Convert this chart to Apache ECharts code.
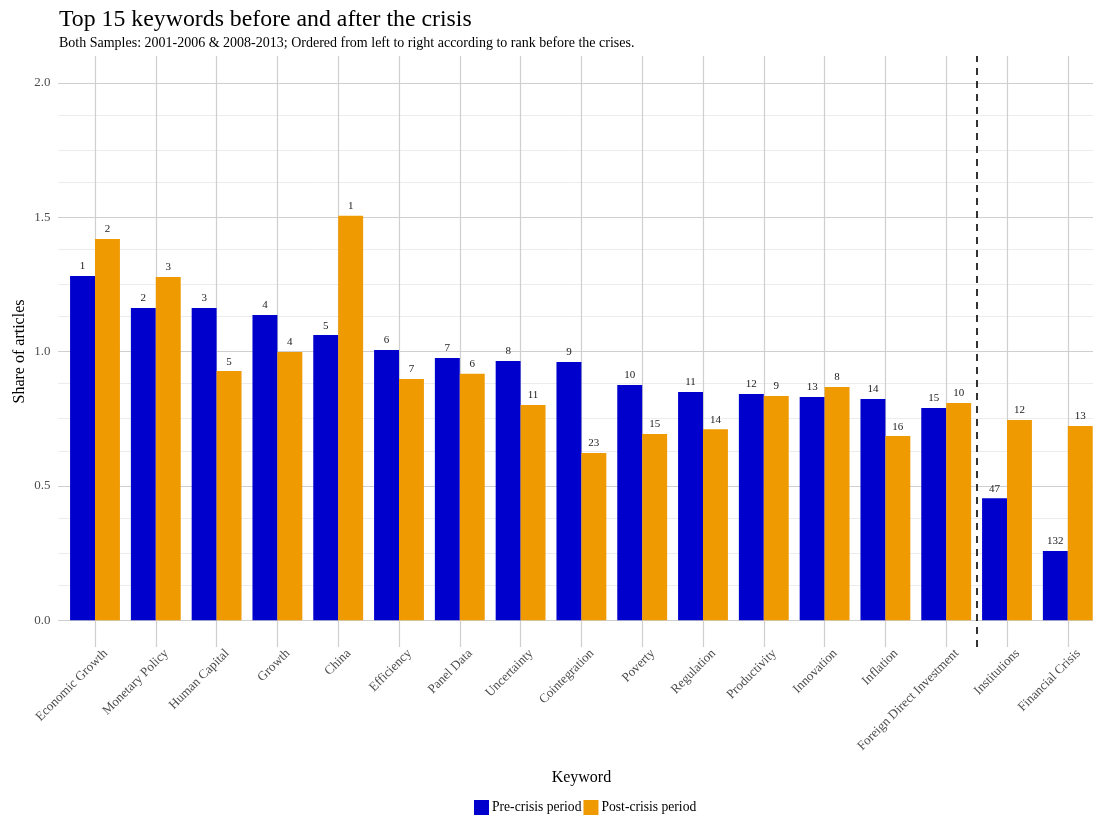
<!DOCTYPE html>
<html>
<head>
<meta charset="utf-8">
<script src="https://cdn.jsdelivr.net/npm/echarts@6/dist/echarts.min.js"></script>
<style>html,body{margin:0;padding:0;background:#fff}#c{width:1093px;height:818px}</style>
</head>
<body>
<div id="c"></div>
<script>
var categories = ["Economic Growth","Monetary Policy","Human Capital","Growth","China","Efficiency","Panel Data","Uncertainty","Cointegration","Poverty","Regulation","Productivity","Innovation","Inflation","Foreign Direct Investment","Institutions","Financial Crisis"];
var preValues  = [1.281,1.162,1.162,1.136,1.061,1.006,0.976,0.965,0.961,0.875,0.849,0.842,0.831,0.823,0.790,0.454,0.257];
var postValues = [1.419,1.277,0.927,0.998,1.505,0.898,0.917,0.801,0.622,0.693,0.711,0.834,0.868,0.685,0.808,0.745,0.723];
var preRanks   = [1,2,3,4,5,6,7,8,9,10,11,12,13,14,15,47,132];
var postRanks  = [2,3,5,4,1,7,6,11,23,15,14,9,8,16,10,12,13];
var yTickLabels = [0, 0.5, 1, 1.5, 2];
var yMinorLines = [0.125,0.25,0.375,0.625,0.75,0.875,1.125,1.25,1.375,1.625,1.75,1.875];
var dividerPosition = 14.5;

var FONT = '"Liberation Serif","DejaVu Serif",serif';
var chart = echarts.init(document.getElementById('c'));

function rankLabel(ranks){
  return {show:true, position:'top', distance:4, color:'#222', fontSize:11, fontFamily:FONT,
    formatter:function(p){return String(ranks[p.dataIndex]);}};
}

var hLines = [];
yMinorLines.forEach(function(v){hLines.push({yAxis:v, lineStyle:{color:'#ececec', width:1, type:'solid'}});});
yTickLabels.forEach(function(v){hLines.push({yAxis:v, lineStyle:{color:'#cfcfcf', width:1.2, type:'solid'}});});

var vLines = categories.map(function(c, i){return {xAxis:i, lineStyle:{color:'#cfcfcf', width:1.2, type:'solid'}};});

chart.setOption({
  animation:false,
  backgroundColor:'#fff',
  title:[
    {text:'Top 15 keywords before and after the crisis', left:54, top:3,
     textStyle:{fontFamily:FONT, fontSize:23.8, fontWeight:'normal', color:'#000'}},
    {text:'Both Samples: 2001-2006 & 2008-2013; Ordered from left to right according to rank before the crises.', left:54, top:31,
     textStyle:{fontFamily:FONT, fontSize:14, fontWeight:'normal', color:'#000'}}
  ],
  legend:{
    data:['Pre-crisis period','Post-crisis period'], left:474, top:800, icon:'rect', padding:0,
    itemWidth:15, itemHeight:15, itemGap:2,
    textStyle:{fontFamily:FONT, fontSize:13.6, color:'#000', padding:[0,0,0,-2]}
  },
  grid:[
    {left:64.6, width:1033.6, top:56, height:591, outerBoundsMode:'none'},
    {left:64.6, width:1033.6, top:56, height:591, outerBoundsMode:'none'},
    {left:58, right:0, top:56, height:591, outerBoundsMode:'none'}
  ],
  xAxis:[
    {type:'category', gridIndex:0, data:categories,
     axisLine:{show:false}, axisTick:{show:false}, splitLine:{show:false},
     axisLabel:{rotate:45, interval:0, fontFamily:FONT, fontSize:13, color:'#4d4d4d', margin:15,
       padding:[13,-15,0,0]},
     name:'Keyword', nameLocation:'middle', nameGap:123, nameMoveOverlap:false,
     nameTextStyle:{fontFamily:FONT, fontSize:16, color:'#000'}},
    {type:'value', gridIndex:1, min:-0.5, max:16.5, show:false},
    {type:'value', gridIndex:2, min:0, max:1, show:false}
  ],
  yAxis:[
    {type:'value', gridIndex:0, min:-0.1, max:2.1,
     axisLine:{show:false}, axisTick:{show:false}, splitLine:{show:false},
     axisLabel:{customValues:yTickLabels, fontFamily:FONT, fontSize:13, color:'#4d4d4d', margin:14,
       formatter:function(v){return v.toFixed(1);}},
     name:'Share of articles', nameLocation:'middle', nameGap:37, nameMoveOverlap:false,
     nameTextStyle:{fontFamily:FONT, fontSize:16, color:'#000'}},
    {type:'value', gridIndex:1, min:-0.1, max:2.1, show:false},
    {type:'value', gridIndex:2, min:-0.1, max:2.1, show:false}
  ],
  series:[
    {type:'line', xAxisIndex:2, yAxisIndex:2, data:[], z:0, silent:true,
     markLine:{z:0, silent:true, symbol:['none','none'], label:{show:false}, animation:false, data:hLines}},
    {type:'line', xAxisIndex:1, yAxisIndex:1, data:[], z:0, silent:true,
     markLine:{z:0, silent:true, symbol:['none','none'], label:{show:false}, animation:false, data:vLines}},
    {name:'Pre-crisis period', type:'bar', data:preValues, itemStyle:{color:'#0000CD'},
     barGap:'0%', barCategoryGap:'18%', z:3, label:rankLabel(preRanks)},
    {name:'Post-crisis period', type:'bar', data:postValues, itemStyle:{color:'#EE9A00'},
     barGap:'0%', barCategoryGap:'18%', z:3, label:rankLabel(postRanks)},
    {type:'line', xAxisIndex:1, yAxisIndex:1, data:[], z:5, silent:true,
     markLine:{z:5, silent:true, symbol:['none','none'], label:{show:false}, animation:false,
       data:[{xAxis:dividerPosition, lineStyle:{color:'#000', width:1.6, type:[7,6]}}]}}
  ]
});
</script>
</body>
</html>
